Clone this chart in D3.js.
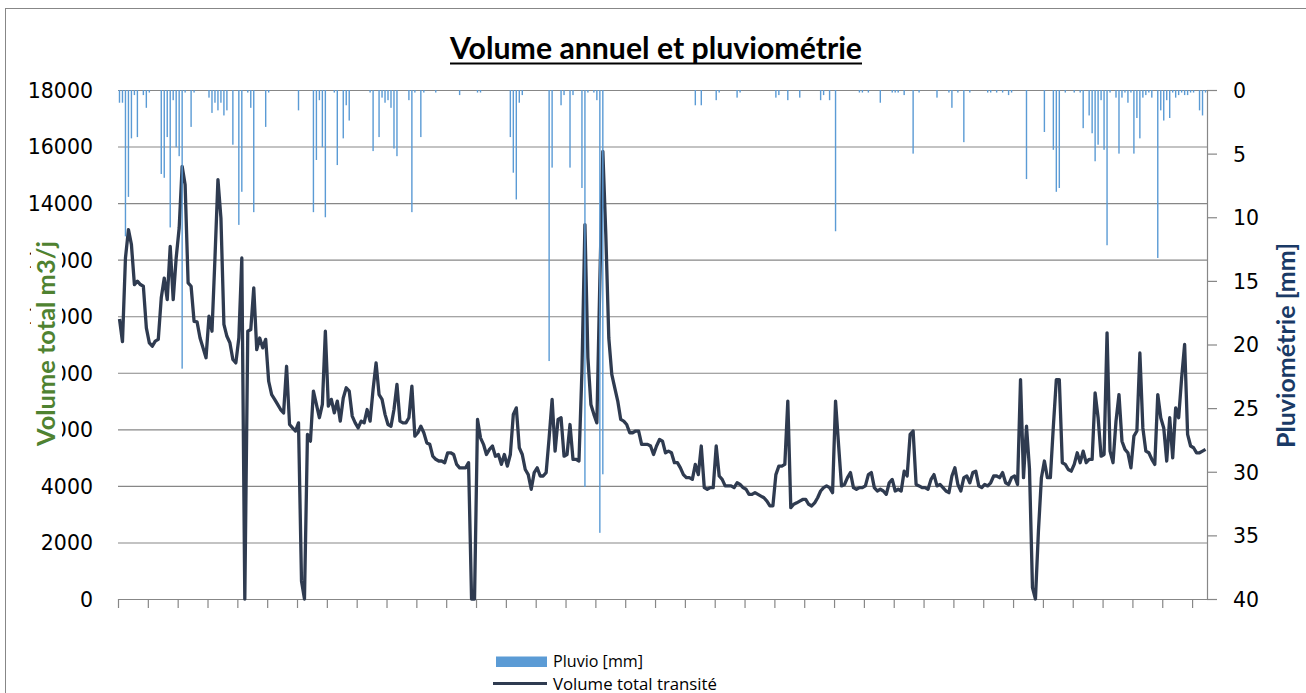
<!DOCTYPE html>
<html>
<head>
<meta charset="utf-8">
<script src="https://cdn.jsdelivr.net/npm/d3@7"></script>
<style>
  html, body { margin: 0; padding: 0; background: #ffffff; }
  #chart { width: 1306px; height: 693px; overflow: hidden; }
</style>
</head>
<body>
<div id="chart"></div>
<script>
const TITLE = "Volume annuel et pluviométrie";
const LEFT_TITLE = "Volume total m3/j";
const RIGHT_TITLE = "Pluviométrie [mm]";
const LEGEND_LABELS = ["Pluvio [mm]", "Volume total transité"];

const LEFT_TICKS = [0, 2000, 4000, 6000, 8000, 10000, 12000, 14000, 16000, 18000];
const RIGHT_TICKS = [0, 5, 10, 15, 20, 25, 30, 35, 40];
const DAY_TICKS = [0, 10, 20, 30, 40, 50, 60, 70, 80, 90, 100, 110, 120, 130, 140, 150, 160, 170,
  180, 190, 200, 210, 220, 230, 240, 250, 260, 270, 280, 290, 300, 310, 320, 330, 340, 350, 360];

// daily volume (m3/j), day 0 .. 364
const VOLUME = [
  9900, 9100, 12060, 13060, 12530, 11120, 11240, 11120, 11060, 9590,
  9060, 8940, 9120, 9180, 10650, 11350, 10590, 12470, 10590, 12060,
  13120, 15300, 14650, 11180, 11060, 9820, 9800, 9230, 8880, 8530,
  10000, 9470, 12060, 14830, 13470, 9710, 9290, 9060, 8470, 8350,
  9230, 12060, 0, 9470, 9530, 11000, 8820, 9230, 8880, 9180,
  7700, 7230, 7060, 6880, 6700, 6580, 8230, 6170, 6050, 5940,
  6230, 640, 0, 5820, 5580, 7350, 6880, 6410, 6880, 9470,
  6820, 7060, 6580, 7000, 6290, 7110, 7470, 7350, 6470, 6230,
  6050, 6290, 6230, 6700, 6290, 7410, 8350, 7230, 7060, 6530,
  6170, 6110, 6700, 7590, 6290, 6230, 6230, 6410, 7530, 5760,
  5880, 6110, 5880, 5520, 5470, 5050, 4940, 4880, 4880, 4820,
  5170, 5170, 5110, 4760, 4640, 4640, 4640, 4820, 0, 0,
  6350, 5700, 5470, 5110, 5290, 5410, 5050, 5110, 4760, 5110,
  4700, 5110, 6530, 6760, 5350, 5110, 4580, 4400, 3880, 4470,
  4640, 4350, 4350, 4470, 5700, 7060, 5230, 6350, 6410, 5050,
  5110, 6170, 4940, 4940, 4880, 8060, 13240, 8530, 6880, 6530,
  6230, 11240, 15830, 12890, 9230, 7940, 7470, 7000, 6350, 6290,
  6170, 5880, 5880, 5940, 5940, 5470, 5470, 5470, 5410, 5110,
  5410, 5640, 5580, 5170, 5230, 5170, 4820, 4820, 4640, 4400,
  4290, 4290, 4230, 4760, 4400, 5410, 3940, 3880, 3940, 3940,
  5410, 4350, 4230, 4000, 4000, 4000, 3940, 4110, 4050, 3940,
  3880, 3700, 3700, 3760, 3700, 3640, 3580, 3460, 3290, 3290,
  4400, 4700, 4700, 4760, 7000, 3230, 3350, 3400, 3460, 3520,
  3520, 3350, 3290, 3400, 3580, 3820, 3940, 4000, 3940, 3760,
  7000, 5470, 4000, 4050, 4290, 4470, 3940, 3880, 3940, 3940,
  4000, 4400, 4470, 3940, 3820, 3880, 3820, 3700, 4110, 4230,
  3820, 3880, 3820, 4520, 4350, 5820, 5940, 4050, 4000, 3940,
  3940, 3880, 4230, 4400, 4000, 4050, 3940, 3820, 3760, 4350,
  4640, 4050, 3820, 4290, 4350, 4110, 4470, 4520, 4000, 3940,
  4050, 4000, 4110, 4350, 4350, 4290, 4470, 4110, 4050, 4290,
  4350, 4050, 7760, 4290, 6110, 4600, 400, 0, 2400, 4290,
  4880, 4290, 4290, 6100, 7760, 7760, 4820, 4760, 4580, 4520,
  4760, 5170, 4820, 5230, 4820, 4940, 4940, 7290, 6410, 5050,
  5110, 9410, 5230, 4820, 6290, 7230, 5580, 5290, 5170, 4640,
  5760, 5940, 8700, 6050, 5230, 5170, 4940, 4760, 7230, 6410,
  6050, 4880, 6410, 4990, 6760, 6410, 7820, 9000, 5820, 5410,
  5350, 5170, 5170, 5230, 5290
];

// rainy days only (day index, mm); other days are 0
const RAIN_DAYS = [
  0, 1, 2, 3, 4, 5, 6, 8, 9, 10, 14, 15, 16, 17, 18, 19, 20, 21, 22, 24, 25,
  30, 31, 32, 33, 34, 35, 36, 38, 40, 41, 43, 44, 45, 49, 50, 60,
  65, 66, 67, 68, 69, 72, 73, 75, 76, 77, 84, 85, 87, 88, 89, 90, 91, 92, 93,
  97, 98, 99, 101, 102, 106, 114, 120, 121, 131, 132, 133, 134, 135,
  144, 145, 148, 149, 151, 152, 155, 156, 157, 159, 160, 161, 162,
  193, 195, 200, 201, 207, 208, 220, 221, 224, 228, 235, 236, 238, 240,
  248, 249, 251, 255, 259, 260, 261, 263, 266, 268, 274, 278, 279, 281, 283, 285,
  291, 292, 294, 296, 298, 299, 304, 310, 313, 314, 315, 317, 320, 322, 323,
  325, 326, 327, 328, 329, 330, 331, 332, 334, 335, 336, 337, 338, 339, 340,
  341, 342, 343, 344, 345, 346, 348, 349, 350, 351, 352, 353, 354, 355, 356,
  357, 358, 359, 360, 362, 363, 364
];
const RAIN_MM = [
  1.0, 1.0, 11.5, 8.4, 3.8, 0.4, 3.7, 0.4, 1.4, 0.2, 6.6, 6.9, 3.7, 10.8, 0.8, 4.5, 5.2, 21.9, 0.2, 2.9, 0.2,
  0.6, 1.8, 1.0, 1.6, 1.0, 2.0, 1.6, 4.3, 10.6, 8.0, 0.2, 1.4, 9.6, 2.9, 0.2, 1.6,
  9.6, 5.5, 0.8, 4.5, 10.0, 0.2, 5.9, 3.8, 1.2, 2.4, 0.2, 4.8, 3.7, 0.6, 1.0, 0.8, 1.4, 4.6, 5.2,
  0.8, 9.6, 0.2, 3.7, 0.2, 0.2, 0.4, 0.2, 0.2, 3.7, 6.5, 8.6, 1.0, 0.4,
  21.3, 6.1, 1.2, 0.4, 6.1, 0.4, 7.7, 31.2, 0.2, 0.2, 0.8, 34.8, 30.2,
  1.2, 1.2, 0.8, 0.2, 0.6, 0.2, 0.6, 0.4, 0.8, 0.6, 0.8, 0.4, 0.8, 11.1,
  0.2, 0.2, 0.2, 1.0, 0.2, 0.2, 0.2, 0.4, 5.0, 0.2, 0.6, 0.2, 1.4, 0.2, 4.1, 0.2,
  0.2, 0.2, 0.2, 0.2, 0.4, 0.2, 7.0, 3.3, 4.7, 8.0, 7.7, 0.2, 0.2, 0.2, 3.0,
  2.0, 3.4, 5.6, 4.3, 0.8, 4.7, 12.2, 0.2, 0.6, 5.0, 0.6, 0.2, 1.0, 0.2, 5.0,
  2.2, 3.8, 0.6, 0.4, 0.2, 0.6, 13.2, 1.6, 2.4, 0.8, 2.2, 0.2, 0.6, 0.4, 0.2,
  0.4, 0.4, 0.2, 0.2, 1.6, 2.0, 0.2
];

const COLORS = {
  line: "#2f3b50",
  bar: "#5b9bd5",
  grid: "#878787",
  leftTitle: "#4f8231",
  rightTitle: "#1a3a66",
};

function renderChart(containerSelector) {
  const container = document.querySelector(containerSelector);
  const width = 1306;
  const height = 693;
  const plot = { left: 118, right: 1207, top: 90, bottom: 599 };

  const days = VOLUME.map((_, i) => i);
  const rainByDay = new Map(RAIN_DAYS.map((day, i) => [day, RAIN_MM[i]]));
  const rows = days.map((day) => ({
    day,
    volume: VOLUME[day],
    rain: rainByDay.get(day) || 0,
  }));

  const svg = d3
    .select(container)
    .append("svg")
    .attr("width", width)
    .attr("height", height)
    .style("background", "#ffffff");

  // chart area frame (runs off the bottom/right of the picture)
  svg
    .append("rect")
    .attr("x", 5.5)
    .attr("y", 8.5)
    .attr("width", 1320)
    .attr("height", 720)
    .attr("fill", "none")
    .attr("stroke", COLORS.grid)
    .attr("stroke-width", 1);

  const xBand = d3.scaleBand().domain(days).range([plot.left, plot.right]);
  const xEdge = d3.scaleLinear().domain([0, days.length]).range([plot.left, plot.right]);
  const yLeft = d3.scaleLinear().domain([0, 18000]).range([plot.bottom, plot.top]);
  const yRight = d3.scaleLinear().domain([0, 40]).range([plot.top, plot.bottom]);

  // gridlines
  svg
    .append("g")
    .attr("transform", `translate(${plot.left},0)`)
    .call(
      d3.axisLeft(yLeft)
        .tickValues(LEFT_TICKS)
        .tickSize(-(plot.right - plot.left))
        .tickFormat("")
    )
    .call((g) => g.select(".domain").remove())
    .call((g) => g.selectAll("line").attr("stroke", COLORS.grid).attr("stroke-width", 1.1));

  // left tick labels
  svg
    .append("g")
    .attr("transform", `translate(${plot.left},0)`)
    .call(
      d3.axisLeft(yLeft)
        .tickValues(LEFT_TICKS)
        .tickFormat(d3.format("d"))
        .tickSize(0)
        .tickPadding(25)
    )
    .call((g) => g.select(".domain").remove())
    .call((g) =>
      g.selectAll("text")
        .attr("font-family", "DejaVu Sans")
        .attr("font-size", 20.5)
        .attr("fill", "#000000")
        .attr("dy", "0.36em")
    );

  // right axis
  svg
    .append("g")
    .attr("transform", `translate(${plot.right},0)`)
    .call(
      d3.axisRight(yRight)
        .tickValues(RIGHT_TICKS)
        .tickSize(10)
        .tickSizeOuter(0)
        .tickPadding(16)
    )
    .call((g) => g.select(".domain").attr("stroke", COLORS.grid).attr("stroke-width", 1.2))
    .call((g) => g.selectAll("line").attr("stroke", COLORS.grid).attr("stroke-width", 1.2))
    .call((g) =>
      g.selectAll("text")
        .attr("font-family", "DejaVu Sans")
        .attr("font-size", 20.5)
        .attr("fill", "#000000")
        .attr("dy", "0.36em")
    );

  // bottom axis (category ticks every 10 days, no labels)
  svg
    .append("g")
    .attr("transform", `translate(0,${plot.bottom})`)
    .call(
      d3.axisBottom(xEdge)
        .tickValues(DAY_TICKS)
        .tickSize(9)
        .tickSizeOuter(0)
        .tickFormat("")
    )
    .call((g) => g.select(".domain").attr("stroke", COLORS.grid).attr("stroke-width", 1.2))
    .call((g) => g.selectAll("line").attr("stroke", COLORS.grid).attr("stroke-width", 1.2));

  // volume line
  const line = d3
    .line()
    .x((d) => xBand(d.day) + xBand.bandwidth() / 2)
    .y((d) => yLeft(d.volume));

  svg
    .append("path")
    .datum(rows)
    .attr("fill", "none")
    .attr("stroke", COLORS.line)
    .attr("stroke-width", 3.3)
    .attr("stroke-linejoin", "round")
    .attr("d", line);

  // rainfall bars hanging from the top (secondary axis)
  const barWidth = 1.4;
  svg
    .append("g")
    .selectAll("rect")
    .data(rows.filter((d) => d.rain > 0))
    .join("rect")
    .attr("x", (d) => xBand(d.day) + (xBand.bandwidth() - barWidth) / 2)
    .attr("y", yRight(0))
    .attr("width", barWidth)
    .attr("height", (d) => yRight(d.rain) - yRight(0))
    .attr("fill", COLORS.bar);

  // title
  svg
    .append("text")
    .attr("x", 656)
    .attr("y", 59)
    .attr("text-anchor", "middle")
    .attr("font-family", "Lato, 'Open Sans', sans-serif")
    .attr("font-weight", 700)
    .attr("font-size", 30)
    .attr("textLength", 412)
    .attr("lengthAdjust", "spacingAndGlyphs")
    .attr("fill", "#000000")
    .text(TITLE);

  svg
    .append("line")
    .attr("x1", 450)
    .attr("x2", 862)
    .attr("y1", 63.5)
    .attr("y2", 63.5)
    .attr("stroke", "#000000")
    .attr("stroke-width", 2.2);

  // left axis title, with its white box over the tick labels
  svg
    .append("rect")
    .attr("x", 31)
    .attr("y", 234)
    .attr("width", 31)
    .attr("height", 220)
    .attr("fill", "#ffffff");

  svg
    .append("text")
    .attr("transform", "translate(55,343.5) rotate(-90)")
    .attr("text-anchor", "middle")
    .attr("font-family", "Lato, 'Open Sans', sans-serif")
    .attr("font-weight", 700)
    .attr("font-size", 24)
    .attr("textLength", 205)
    .attr("lengthAdjust", "spacingAndGlyphs")
    .attr("fill", COLORS.leftTitle)
    .text(LEFT_TITLE);

  svg
    .append("text")
    .attr("transform", "translate(1295,345.5) rotate(-90)")
    .attr("text-anchor", "middle")
    .attr("font-family", "Lato, 'Open Sans', sans-serif")
    .attr("font-weight", 700)
    .attr("font-size", 24)
    .attr("textLength", 205)
    .attr("lengthAdjust", "spacingAndGlyphs")
    .attr("fill", COLORS.rightTitle)
    .text(RIGHT_TITLE);

  // legend
  const legend = svg.append("g");
  legend
    .append("rect")
    .attr("x", 496)
    .attr("y", 656.5)
    .attr("width", 51)
    .attr("height", 10.5)
    .attr("fill", COLORS.bar);
  legend
    .append("line")
    .attr("x1", 493)
    .attr("x2", 547)
    .attr("y1", 683.5)
    .attr("y2", 683.5)
    .attr("stroke", COLORS.line)
    .attr("stroke-width", 3);

  const legendWidths = [90, 164];
  const legendBaselines = [666.5, 689.5];
  LEGEND_LABELS.forEach((label, index) => {
    legend
      .append("text")
      .attr("x", 553)
      .attr("y", legendBaselines[index])
      .attr("font-family", "'Open Sans', sans-serif")
      .attr("font-size", 17)
      .attr("textLength", legendWidths[index])
      .attr("lengthAdjust", "spacingAndGlyphs")
      .attr("fill", "#000000")
      .text(label);
  });
}

renderChart("#chart");
</script>
</body>
</html>
